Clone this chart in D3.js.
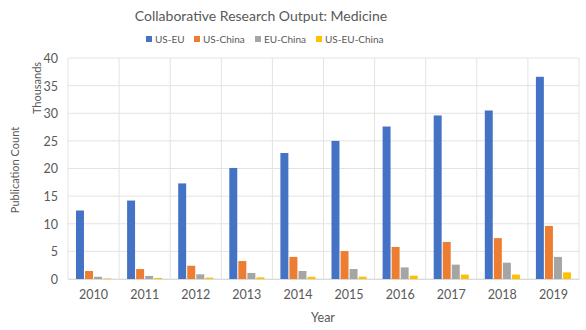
<!DOCTYPE html>
<html>
<head>
<meta charset="utf-8">
<script src="https://cdn.jsdelivr.net/npm/d3@7"></script>
<style>
  body { margin: 0; background: #fff; }
  text { font-family: Lato, "Open Sans", sans-serif; fill: #595959; }
</style>
</head>
<body>
<svg id="chart"></svg>
<script>
// data (thousands of publications)
const years = ["2010","2011","2012","2013","2014","2015","2016","2017","2018","2019"];
const seriesNames = ["US-EU","US-China","EU-China","US-EU-China"];
const usEu = [12.4, 14.2, 17.3, 20.1, 22.8, 25.0, 27.6, 29.6, 30.5, 36.6];
const usChina = [1.45, 1.8, 2.4, 3.25, 4.0, 5.05, 5.8, 6.7, 7.4, 9.6];
const euChina = [0.4, 0.55, 0.85, 1.1, 1.45, 1.8, 2.1, 2.6, 2.95, 4.0];
const usEuChina = [0.1, 0.2, 0.25, 0.3, 0.4, 0.42, 0.6, 0.8, 0.8, 1.2];
const yTicks = [0, 5, 10, 15, 20, 25, 30, 35, 40];
const colors = ["#4472C4", "#ED7D31", "#A5A5A5", "#FFC000"];

const allSeries = [usEu, usChina, euChina, usEuChina];

const width = 586;
const height = 330;
const margin = {top: 58, right: 7, bottom: 51, left: 68};

const svg = d3.select("#chart")
  .attr("width", width)
  .attr("height", height);

const x = d3.scaleBand()
  .domain(years)
  .range([margin.left, width - margin.right])
  .paddingInner(0)
  .paddingOuter(0);

const inner = d3.scaleBand()
  .domain(seriesNames)
  .range([8, x.bandwidth() - 8])
  .paddingInner(0.12);

const y = d3.scaleLinear()
  .domain([0, 40])
  .range([height - margin.bottom, margin.top]);

// horizontal gridlines
svg.append("g")
  .selectAll("line")
  .data(yTicks)
  .join("line")
  .attr("x1", margin.left)
  .attr("x2", width - margin.right)
  .attr("y1", d => y(d))
  .attr("y2", d => y(d))
  .attr("stroke", "#e3e3e3")
  .attr("stroke-width", 1);

// vertical gridlines at category edges
const edges = years.map(d => x(d)).concat([x(years[years.length - 1]) + x.bandwidth()]);
svg.append("g")
  .selectAll("line")
  .data(edges)
  .join("line")
  .attr("x1", d => d)
  .attr("x2", d => d)
  .attr("y1", y(40))
  .attr("y2", y(0))
  .attr("stroke", "#e3e3e3")
  .attr("stroke-width", 1);

// bars
const rows = years.map((yr, i) => ({year: yr, vals: allSeries.map((s, j) => ({name: seriesNames[j], v: s[i], c: colors[j]}))}));
const groups = svg.append("g")
  .selectAll("g")
  .data(rows)
  .join("g")
  .attr("transform", d => `translate(${x(d.year)},0)`);

groups.selectAll("rect")
  .data(d => d.vals)
  .join("rect")
  .attr("x", d => inner(d.name))
  .attr("width", inner.bandwidth())
  .attr("y", d => y(d.v))
  .attr("height", d => y(0) - y(d.v))
  .attr("fill", d => d.c);

// y axis labels
const yAxis = d3.axisLeft(y).tickValues(yTicks).tickSize(0).tickPadding(10);
const gy = svg.append("g")
  .attr("transform", `translate(${margin.left},0)`)
  .call(yAxis);
gy.select(".domain").remove();
gy.selectAll("text")
  .style("font-size", "12.5px")
  .attr("fill", "#595959")
  .attr("dy", "0.35em");

// x axis labels
const xAxis = d3.axisBottom(x).tickSize(0).tickPadding(11);
const gx = svg.append("g")
  .attr("transform", `translate(0,${y(0)})`)
  .call(xAxis);
gx.select(".domain")
  .attr("stroke", "#d9d9d9");
gx.selectAll("text")
  .style("font-size", "12.5px")
  .attr("fill", "#595959");

// title
svg.append("text")
  .attr("x", 261)
  .attr("y", 21)
  .attr("text-anchor", "middle")
  .style("font-size", "14px")
  .text("Collaborative Research Output: Medicine");

// legend
const legendX = [146, 194, 255, 316];
const legend = svg.append("g")
  .selectAll("g")
  .data(seriesNames)
  .join("g")
  .attr("transform", (d, i) => `translate(${legendX[i]},39)`);
legend.append("rect")
  .attr("x", 0)
  .attr("y", -3)
  .attr("width", 6)
  .attr("height", 6)
  .attr("fill", (d, i) => colors[i]);
legend.append("text")
  .attr("x", 9)
  .attr("y", 0)
  .attr("dy", "0.35em")
  .style("font-size", "10px")
  .text(d => d);

// axis titles
svg.append("text")
  .attr("transform", "translate(323,322)")
  .attr("text-anchor", "middle")
  .style("font-size", "12.5px")
  .text("Year");

svg.append("text")
  .attr("transform", "translate(19,170) rotate(-90)")
  .attr("text-anchor", "middle")
  .style("font-size", "11px")
  .text("Publication Count");

svg.append("text")
  .attr("transform", "translate(41,88) rotate(-90)")
  .attr("text-anchor", "middle")
  .style("font-size", "11px")
  .text("Thousands");
</script>
</body>
</html>
